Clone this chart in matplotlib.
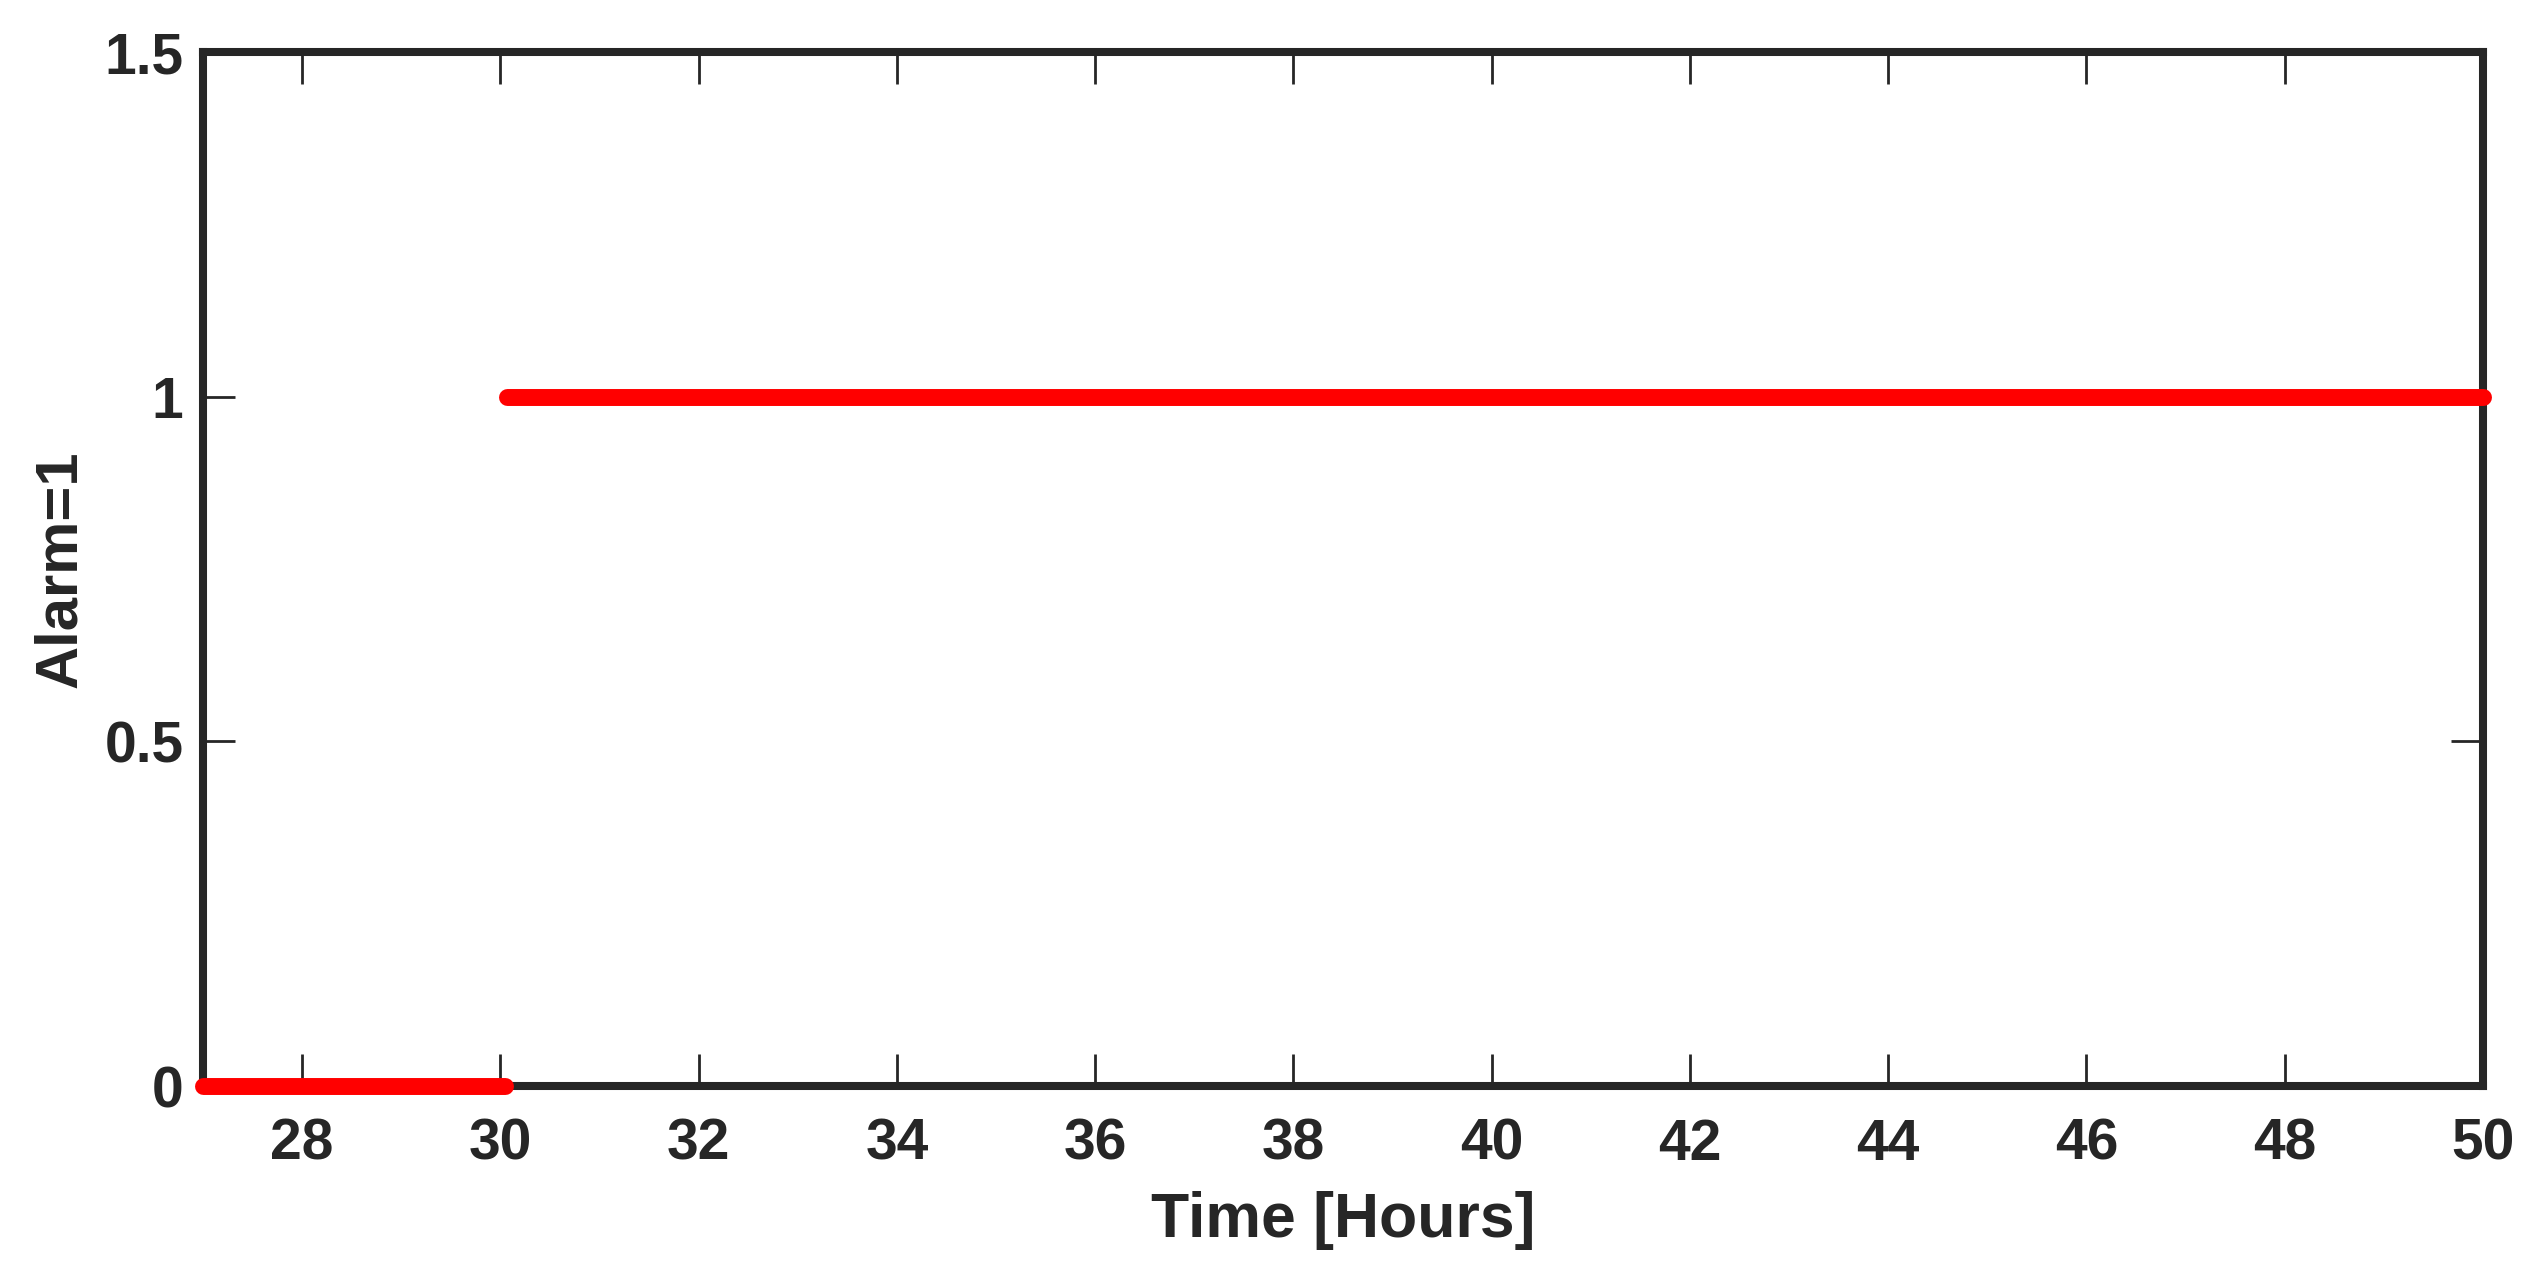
import numpy as np
import matplotlib.pyplot as plt

# alarm state: off until ~30 h, on afterwards
t_off = [27.0, 30.05]
a_off = [0, 0]
t_on = [30.07, 50.0]
a_on = [1, 1]

xticks = np.arange(28, 51, 2)
yticks = [0, 0.5, 1, 1.5]
ylabels = ['0', '0.5', '1', '1.5']

plt.rcParams['font.family'] = ['Liberation Sans', 'DejaVu Sans']
plt.rcParams['font.weight'] = 'bold'
dark = '#262626'

fig = plt.figure(figsize=(25.32, 12.76), dpi=100)
ax = fig.add_axes([203/2532, 1 - 1086/1276, (2483-203)/2532, (1086-52)/1276])

for t, a in [(t_off, a_off), (t_on, a_on)]:
	ax.plot(t, a, '-', color='red', lw=12.2, solid_capstyle='round', clip_on=False, zorder=5)

ax.set_xlim(27, 50)
ax.set_ylim(0, 1.5)
ax.set_xticks(xticks)
ax.set_yticks(yticks)
ax.set_yticklabels(ylabels)
ax.tick_params(direction='in', length=23, width=2, color=dark, labelcolor=dark,
	labelsize=41, top=True, right=True, pad=14)
ax.tick_params(axis='x', pad=23)
for s in ax.spines.values():
	s.set_linewidth(5.8)
	s.set_color(dark)

ax.set_xlabel('Time [Hours]', fontsize=45, fontweight='bold', color=dark, labelpad=14)
ax.set_ylabel('Alarm=1', fontsize=43, fontweight='bold', color=dark, labelpad=12)

fig.savefig('out.png', dpi=100)
